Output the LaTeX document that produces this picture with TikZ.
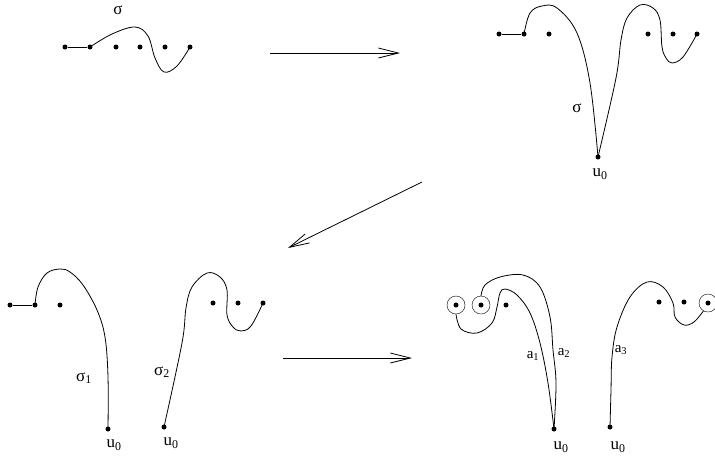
\documentclass[tikz,border=0pt]{standalone}
\usepackage{fontspec}
\setmainfont{Liberation Serif}
\usetikzlibrary{arrows.meta}
\tikzset{
    pt/.style={circle, fill=black, inner sep=0pt, minimum size=5pt},
    ring/.style={circle, draw, inner sep=0pt, minimum size=18pt},
    lbl/.style={inner sep=0pt, font=\fontsize{17}{17}\selectfont},
    albl/.style={inner sep=0pt, font=\fontsize{15}{15}\selectfont},
    move/.style={-{Straight Barb[length=20pt,width=10pt]}, line width=0.8pt},
    strand/.style={line width=0.8pt}
}
\begin{document}
\begin{tikzpicture}[x=1pt, y=-1pt]
    \useasboundingbox (0,0) rectangle (715,459);
% top left
    \foreach \n/\x in {a/65, b/90, c/116, d/140, e/165, f/190}
        \node[pt] (t\n) at (\x,47) {};
    \draw[strand] (ta) -- (tb);
    \draw[strand] plot[smooth, tension=0.6] coordinates {(tb.center) (112,34) (135,27) (148,36) (155,58) (164,72) (177,66) (tf.center)};
    \node[lbl] (sgtop) at (118,10) {σ};
% top right
    \foreach \n/\x in {a/499, b/524, c/549, d/648, e/673, f/697}
        \node[pt] (r\n) at (\x,34) {};
    \node[pt] (ru) at (598,157) {};
    \draw[strand] (ra) -- (rb);
    \draw[strand] plot[smooth, tension=0.6] coordinates {(rb.center) (530,13) (542,6) (557,8) (577,33) (590,83) (ru.center)};
    \draw[strand] plot[smooth, tension=0.6] coordinates {(ru.center) (616,78) (621,40) (627,18) (640,5) (653,8) (660,20) (662,47) (666,58) (672,63) (683,57) (rf.center)};
    \node[lbl] (sgr) at (577,108) {σ};
    \node[lbl] (ur) at (600,174) {u\textsubscript{0}};
% bottom left
    \foreach \n/\x in {a/10, b/35, c/60}
        \node[pt] (l\n) at (\x,305) {};
    \foreach \n/\x in {d/213, e/238, f/263}
        \node[pt] (l\n) at (\x,303) {};
    \node[pt] (lu) at (108,429) {};
    \node[pt] (lv) at (164,427) {};
    \draw[strand] (la) -- (lb);
    \draw[strand] plot[smooth, tension=0.6] coordinates {(lb.center) (38,287) (47,273) (60,269) (70,272) (83,285) (97,310) (105,337) (108,377) (lu.center)};
    \draw[strand] plot[smooth, tension=0.6] coordinates {(lv.center) (182,343) (186,308) (192,287) (207,273) (220,277) (227,290) (227,315) (233,327) (241,331) (251,326) (lf.center)};
    \node[lbl] (sg1) at (84,378) {σ\textsubscript{1}};
    \node[lbl] (sg2) at (162,372) {σ\textsubscript{2}};
    \node[lbl] (ul1) at (114,445) {u\textsubscript{0}};
    \node[lbl] (ul2) at (171,443) {u\textsubscript{0}};
% bottom right
    \node[pt] (ka) at (456,305) {};
    \node[pt] (kb) at (481,305) {};
    \node[pt] (kc) at (506,305) {};
    \node[ring] (ca) at (ka) {};
    \node[ring] (cb) at (kb) {};
    \node[pt] (kd) at (659,302) {};
    \node[pt] (ke) at (684,302) {};
    \node[pt] (kf) at (708,303) {};
    \node[ring] (cf) at (kf) {};
    \node[pt] (ku) at (554,429) {};
    \node[pt] (kv) at (610,427) {};
    \draw[strand] plot[smooth, tension=0.6] coordinates {(ku.center) (548,383) (540,343) (530,313) (517,295) (505,289) (500,293) (497,307) (492,323) (477,333) (461,329) (ca.south)};
    \draw[strand] plot[smooth, tension=0.6] coordinates {(ku.center) (556,383) (553,350) (550,317) (540,287) (523,275) (500,277) (485,285) (cb.north)};
    \draw[strand] plot[smooth, tension=0.6] coordinates {(kv.center) (611,390) (612,357) (617,327) (630,297) (647,282) (663,287) (673,303) (675,317) (684,325) (694,322) (cf.-120)};
    \node[albl] (ta1) at (533,356) {a\textsubscript{1}};
    \node[albl] (ta2) at (564,353) {a\textsubscript{2}};
    \node[albl] (ta3) at (621,350) {a\textsubscript{3}};
    \node[lbl] (uk1) at (561,447) {u\textsubscript{0}};
    \node[lbl] (uk2) at (618,447) {u\textsubscript{0}};
% arrows
    \coordinate (m1s) at (270,53);
    \coordinate (m1e) at (400,53);
    \coordinate (m2s) at (422,182);
    \coordinate (m2e) at (288,248);
    \coordinate (m3s) at (283,358);
    \coordinate (m3e) at (412,358);
    \draw[move] (m1s) -- (m1e);
    \draw[move] (m2s) -- (m2e);
    \draw[move] (m3s) -- (m3e);
\end{tikzpicture}
\end{document}
